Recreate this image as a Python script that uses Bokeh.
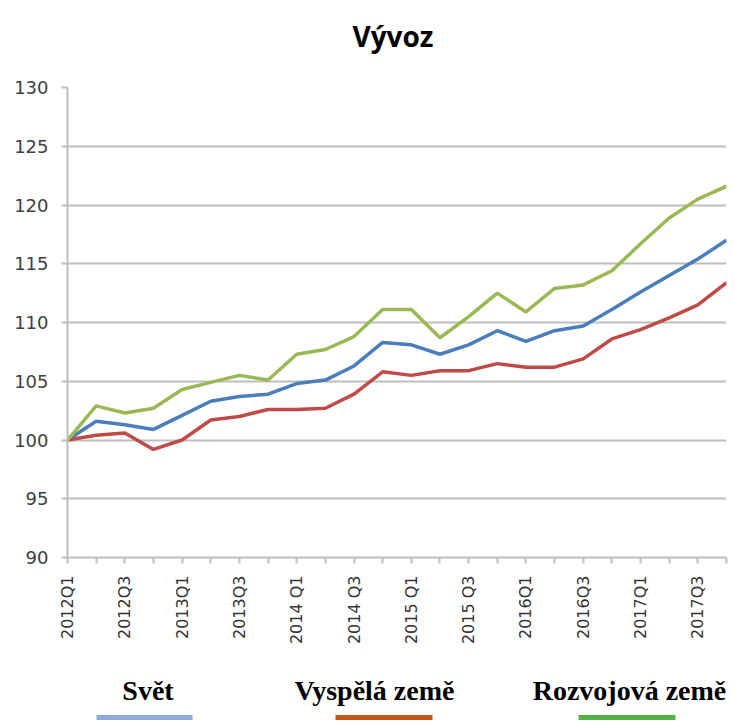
from bokeh.plotting import figure
from bokeh.models import Range1d, FixedTicker
from bokeh.layouts import column
from bokeh.core.properties import value
from bokeh.embed import file_html
from bokeh.resources import INLINE

# ---- data ----
quarters = ["2012Q1", "2012Q2", "2012Q3", "2012Q4",
            "2013Q1", "2013Q2", "2013Q3", "2013Q4",
            "2014 Q1", "2014 Q2", "2014 Q3", "2014 Q4",
            "2015 Q1", "2015 Q2", "2015 Q3", "2015 Q4",
            "2016Q1", "2016Q2", "2016Q3", "2016Q4",
            "2017Q1", "2017Q2", "2017Q3", "2017Q4"]
shown_labels = ["2012Q1", "2012Q3", "2013Q1", "2013Q3", "2014 Q1", "2014 Q3",
                "2015 Q1", "2015 Q3", "2016Q1", "2016Q3", "2017Q1", "2017Q3"]

svet = [100.0, 101.6, 101.3, 100.9, 102.1, 103.3, 103.7, 103.9, 104.8, 105.1, 106.3, 108.3,
        108.1, 107.3, 108.1, 109.3, 108.4, 109.3, 109.7, 111.1, 112.6, 114.0, 115.4, 117.0]
vyspela = [100.0, 100.4, 100.6, 99.2, 100.0, 101.7, 102.0, 102.6, 102.6, 102.7, 103.9, 105.8,
           105.5, 105.9, 105.9, 106.5, 106.2, 106.2, 106.9, 108.6, 109.4, 110.4, 111.5, 113.4]
rozvojova = [100.0, 102.9, 102.3, 102.7, 104.3, 104.9, 105.5, 105.1, 107.3, 107.7, 108.8, 111.1,
             111.1, 108.7, 110.5, 112.5, 110.9, 112.9, 113.2, 114.4, 116.7, 118.9, 120.5, 121.6]

title_text = "Vývoz"
series_names = ["Svět", "Vyspělá země", "Rozvojová země"]
y_ticks = [90, 95, 100, 105, 110, 115, 120, 125, 130]

x = list(range(len(quarters)))

W = 732
LEFT = 67
RIGHT = 6
TOP_H = 60
MAIN_H = 595
LEG_H = 66


def strip(height):
    f = figure(width=W, height=height, output_backend="svg", toolbar_location=None,
               x_range=Range1d(LEFT, W - RIGHT), y_range=Range1d(height, 0),
               x_axis_location=None, y_axis_location=None,
               min_border_left=LEFT, min_border_right=RIGHT,
               min_border_top=0, min_border_bottom=0)
    f.outline_line_color = None
    f.grid.visible = False
    return f


# ---- title strip (data units = pixels) ----
top = strip(TOP_H)
top.text(x=[392.5], y=[35], text=[title_text],
         text_font=value("Open Sans"), text_font_style="bold",
         text_font_size="28px", text_align="center", text_baseline="alphabetic",
         text_color="black")

# ---- main chart ----
p = figure(width=W, height=MAIN_H, output_backend="svg", toolbar_location=None,
           x_range=Range1d(0, len(quarters) - 1), y_range=Range1d(90, 130),
           min_border_left=LEFT, min_border_right=RIGHT, min_border_top=87 - TOP_H,
           min_border_bottom=TOP_H + MAIN_H - 557)
p.outline_line_color = None
p.background_fill_color = "white"
p.border_fill_color = "white"

grid_col = "#BEBEBE"
p.xgrid.visible = False
p.ygrid.grid_line_color = grid_col
p.ygrid.grid_line_width = 2

yax = p.yaxis[0]
yax.ticker = FixedTicker(ticks=y_ticks)
yax.axis_line_color = grid_col
yax.axis_line_width = 2
yax.major_tick_line_color = grid_col
yax.major_tick_line_width = 2
yax.major_tick_in = 0
yax.major_tick_out = 6
yax.minor_tick_line_color = None
yax.major_label_text_font = "DejaVu Sans"
yax.major_label_text_font_size = "18px"
yax.major_label_text_color = "#404040"
yax.major_label_standoff = 13

xax = p.xaxis[0]
xax.ticker = FixedTicker(ticks=x)
overrides = {}
for i, q in enumerate(quarters):
    overrides[i] = q if q in shown_labels else ""
xax.major_label_overrides = overrides
xax.major_label_orientation = 3.14159265 / 2
xax.axis_line_color = grid_col
xax.axis_line_width = 2
xax.major_tick_line_color = grid_col
xax.major_tick_line_width = 2
xax.major_tick_in = 0
xax.major_tick_out = 6
xax.minor_tick_line_color = None
xax.major_label_text_font = "DejaVu Sans"
xax.major_label_text_font_size = "16px"
xax.major_label_text_color = "#333333"
xax.major_label_standoff = 12

line_colors = ["#4A7EBB", "#BE4B48", "#98B954"]
for ys, col in zip([svet, vyspela, rozvojova], line_colors):
    p.line(x, ys, line_color=col, line_width=3.5)

# ---- legend strip (data units = pixels from strip top) ----
leg = strip(LEG_H)
text_x = [147.5, 374, 629]
swatch_x0 = [96, 335, 578]
swatch_x1 = [192, 432, 675]
swatch_colors = ["#8FAADC", "#C4561A", "#55B04A"]
leg.text(x=text_x, y=[35, 35, 35], text=series_names,
         text_font=value("Liberation Serif"), text_font_style="bold",
         text_font_size="28px", text_align="center", text_baseline="alphabetic",
         text_color="black")
leg.segment(x0=swatch_x0, y0=[62, 62, 62], x1=swatch_x1, y1=[62, 62, 62],
            line_color=swatch_colors, line_width=5)

layout = column(top, p, leg, spacing=0)
open("out.html", "w").write(file_html(layout, INLINE))
